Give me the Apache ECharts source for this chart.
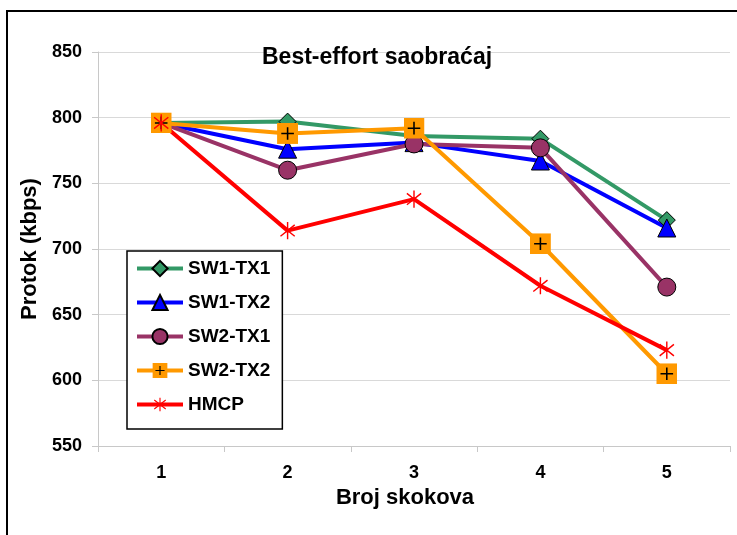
<!DOCTYPE html>
<html>
<head>
<meta charset="utf-8">
<script src="https://cdn.jsdelivr.net/npm/echarts@6/dist/echarts.min.js"></script>
<style>
  html, body { margin: 0; padding: 0; background: #fff; }
  #chart { width: 737px; height: 535px; }
</style>
</head>
<body>
<div id="chart"></div>
<script>
// Hop counts on the x axis
const categories = ['1', '2', '3', '4', '5'];

// Throughput (kbps) per configuration
const sw1tx1 = [796, 797, 786, 784, 722];
const sw1tx2 = [796, 776, 781, 767, 716];
const sw2tx1 = [796, 760, 780, 777, 671];
const sw2tx2 = [796, 788, 792, 704, 605];
const hmcp   = [796, 714, 738, 672, 623];

const seriesNames = ['SW1-TX1', 'SW1-TX2', 'SW2-TX1', 'SW2-TX2', 'HMCP'];

// Y axis range
const yMin = 550, yMax = 850, yStep = 50;

const FONT = '"Liberation Sans", Arial, sans-serif';

// Orange square with a black plus
const squarePlus = 'image://data:image/svg+xml;utf8,' + encodeURIComponent(
  '<svg xmlns="http://www.w3.org/2000/svg" width="40" height="40" viewBox="0 0 40 40">' +
  '<rect x="0" y="0" width="40" height="40" fill="#ff9900"/>' +
  '<path d="M20 8 V32 M8 20 H32" stroke="#000" stroke-width="3"/></svg>');

// Red asterisk marker
const asterisk = 'image://data:image/svg+xml;utf8,' + encodeURIComponent(
  '<svg xmlns="http://www.w3.org/2000/svg" width="40" height="40" viewBox="0 0 40 40">' +
  '<path d="M20 2 V38 M5 8 L35 32 M5 32 L35 8" stroke="#ff0000" stroke-width="3" fill="none"/></svg>');

const chart = echarts.init(document.getElementById('chart'), null, { renderer: 'canvas' });

function lineSeries(name, data, color, symbol, size, border) {
  return {
    name: name,
    type: 'line',
    data: data,
    symbol: symbol,
    symbolSize: size,
    showAllSymbol: true,
    lineStyle: { color: color, width: 4 },
    itemStyle: border
      ? { color: color, borderColor: '#000', borderWidth: 1 }
      : { color: color },
    emphasis: { disabled: true },
    z: 2
  };
}

chart.setOption({
  animation: false,
  backgroundColor: '#ffffff',
  title: {
    text: 'Best-effort saobraćaj',
    left: 262,
    top: 46,
    padding: 0,
    textStyle: { fontFamily: FONT, fontSize: 23, fontWeight: 'bold', color: '#000' }
  },
  grid: { left: 98, right: 7, top: 52, bottom: 89, outerBoundsMode: 'none' },
  legend: {
    orient: 'vertical',
    left: 127,
    top: 251,
    padding: [8, 12, 15, 8],
    itemWidth: 46,
    itemHeight: 19,
    itemGap: 15,
    backgroundColor: '#fff',
    borderColor: '#000',
    borderWidth: 1.5,
    borderRadius: 0,
    data: seriesNames,
    lineStyle: { width: 4 },
    textStyle: { fontFamily: FONT, fontSize: 19, fontWeight: 'bold', color: '#000' },
    z: 10
  },
  xAxis: {
    type: 'category',
    data: categories,
    boundaryGap: true,
    name: 'Broj skokova',
    nameLocation: 'middle',
    nameGap: 37,
    nameTextStyle: { fontFamily: FONT, fontSize: 22, fontWeight: 'bold', color: '#000', padding: [0, 18, 0, 0] },
    axisLine: { show: true, lineStyle: { color: '#c8c8c8', width: 1 } },
    axisTick: { show: true, length: 6, interval: 0, lineStyle: { color: '#c8c8c8' } },
    axisLabel: { margin: 18, fontFamily: FONT, fontSize: 18, fontWeight: 'bold', color: '#000' },
    splitLine: { show: false }
  },
  yAxis: {
    type: 'value',
    min: yMin,
    max: yMax,
    interval: yStep,
    name: 'Protok (kbps)',
    nameLocation: 'middle',
    nameGap: 52,
    nameTextStyle: { fontFamily: FONT, fontSize: 22, fontWeight: 'bold', color: '#000' },
    axisLine: { show: true, lineStyle: { color: '#c8c8c8', width: 1 } },
    axisTick: { show: true, length: 6, lineStyle: { color: '#c8c8c8' } },
    axisLabel: { margin: 16, fontFamily: FONT, fontSize: 18, fontWeight: 'bold', color: '#000' },
    splitLine: { show: true, lineStyle: { color: '#d9d9d9', width: 1 } }
  },
  graphic: [{
    type: 'rect',
    shape: { x: 7, y: 11, width: 900, height: 700 },
    style: { fill: 'none', stroke: '#000', lineWidth: 2 },
    silent: true,
    z: 100
  }],
  series: [
    lineSeries(seriesNames[0], sw1tx1, '#339966', 'diamond', 17, true),
    lineSeries(seriesNames[1], sw1tx2, '#0000ff', 'triangle', 18, true),
    lineSeries(seriesNames[2], sw2tx1, '#993366', 'circle', 18, true),
    lineSeries(seriesNames[3], sw2tx2, '#ff9900', squarePlus, 21, false),
    lineSeries(seriesNames[4], hmcp, '#ff0000', asterisk, 19, false)
  ]
});
</script>
</body>
</html>
